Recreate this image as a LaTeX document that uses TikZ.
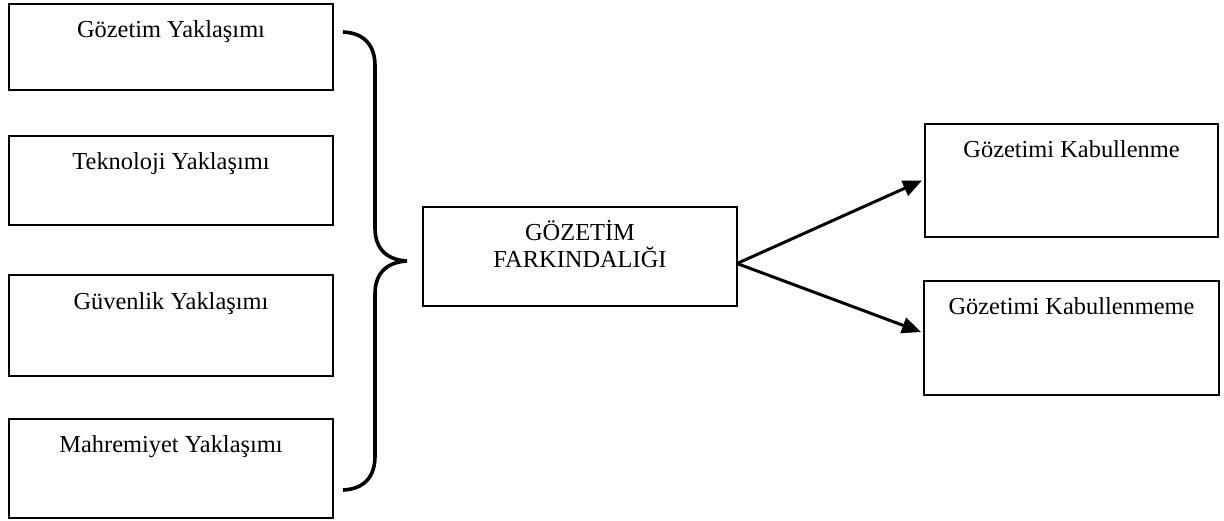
\documentclass[tikz,border=0pt]{standalone}
\usepackage{fontspec}
\setmainfont{Liberation Serif}
\usetikzlibrary{arrows.meta}
\begin{document}
\begin{tikzpicture}[x=0.5pt,y=-0.5pt,
  box/.style={draw=black,line width=0.75pt,anchor=north west,inner sep=0pt,outer sep=0pt,minimum width=162pt},
  lbl/.style={anchor=base,inner sep=0pt,align=center,font=\fontsize{12.2}{13.5}\selectfont},
  brace/.style={draw=black,line width=1.8pt},
  arr/.style={draw=black,line width=1.5pt,-{Triangle[length=9.5pt,width=8pt]}}]
\useasboundingbox (0,0) rectangle (1224,520);
% left boxes
\node[box,minimum height=43pt] (b1) at (9,4) {};
\node[box,minimum height=44.5pt] (b2) at (9,136) {};
\node[box,minimum height=50.5pt] (b3) at (9,275) {};
\node[box,minimum height=49.5pt] (b4) at (9,419) {};
\node[lbl] (t1) at ([yshift=-16.5pt]b1.north) {Gözetim Yaklaşımı};
\node[lbl] (t2) at ([yshift=-16.5pt]b2.north) {Teknoloji Yaklaşımı};
\node[lbl] (t3) at ([yshift=-17pt]b3.north) {Güvenlik Yaklaşımı};
\node[lbl] (t4) at ([yshift=-16.5pt]b4.north) {Mahremiyet Yaklaşımı};
% centre box
\node[box,minimum width=157pt,minimum height=49.5pt] (c) at (423,207) {};
\node[lbl] (tc) at ([yshift=-30pt]c.north) {GÖZETİM\\FARKINDALIĞI};
% right boxes
\node[box,minimum width=146.5pt,minimum height=56.5pt] (r1) at (925,124) {};
\node[box,minimum width=147.5pt,minimum height=57pt] (r2) at (924,281) {};
\node[lbl] (tr1) at ([yshift=-16.5pt]r1.north) {Gözetimi Kabullenme};
\node[lbl] (tr2) at ([yshift=-16.5pt]r2.north) {Gözetimi Kabullenmeme};
% brace
\coordinate (btop) at (343,32);
\coordinate (btip) at (407,261);
\coordinate (bbot) at (343,490);
\draw[brace] (btop) .. controls (364,33) and (375,45) .. (375,66) -- (375,228)
  .. controls (375,250) and (388,260) .. (btip)
  .. controls (388,262) and (375,272) .. (375,294) -- (375,456)
  .. controls (375,477) and (364,489) .. (bbot);
% arrows
\coordinate (cs) at ([yshift=-3.5pt]c.east);
\draw[arr] (cs) -- ([xshift=-1.5pt]r1.west);
\draw[arr] (cs) -- ([xshift=-1.5pt,yshift=3pt]r2.west);
\end{tikzpicture}
\end{document}
